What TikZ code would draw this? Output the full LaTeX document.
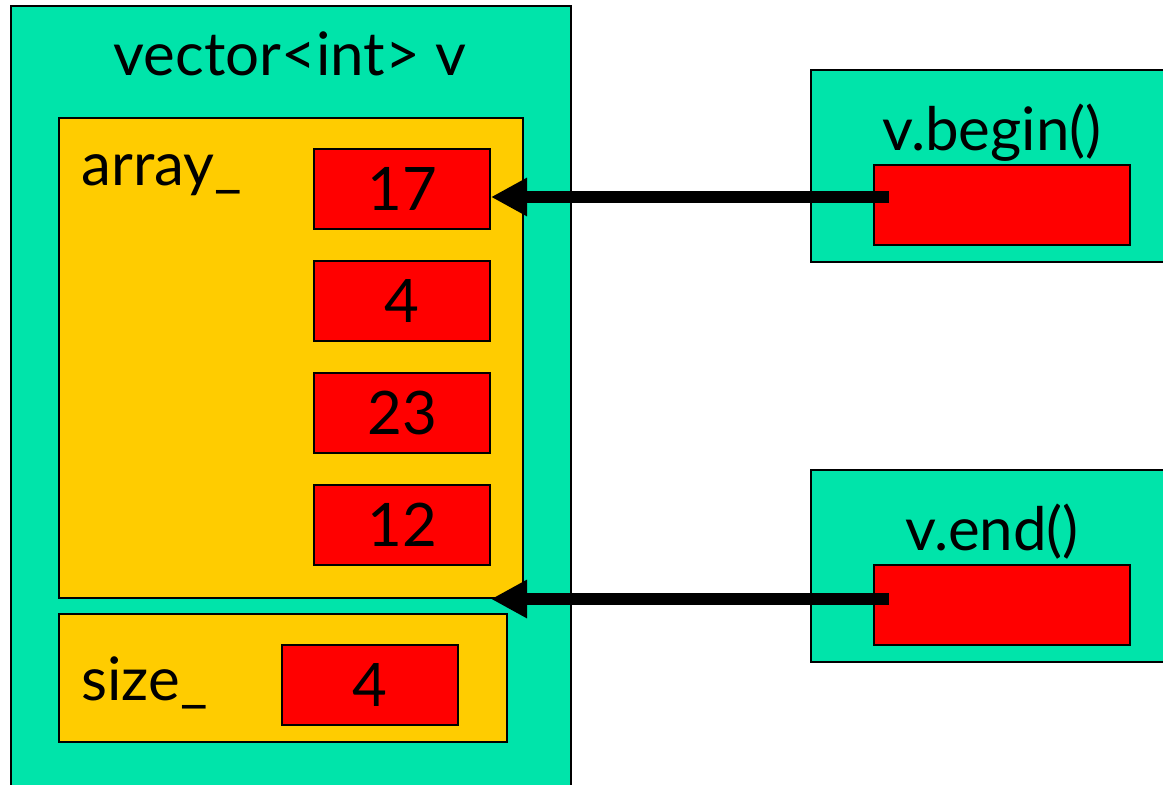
\documentclass[tikz,border=0pt]{standalone}
\usepackage{fontspec}
\setmainfont{Lato}
\usepackage{xcolor}
\usepackage{tikz}
\usetikzlibrary{arrows.meta}
\definecolor{mint}{RGB}{0,228,170}
\definecolor{gold}{RGB}{255,204,0}
\definecolor{cellred}{RGB}{255,0,0}
\tikzset{
  big/.style={font=\fontsize{60}{72}\selectfont},
  frame/.style={draw=black,line width=2pt,fill=mint,inner sep=0pt,anchor=north west},
  member/.style={draw=black,line width=2pt,fill=gold,inner sep=0pt,anchor=north west},
  cell/.style={draw=black,line width=2pt,fill=cellred,inner sep=0pt,minimum width=176pt,minimum height=80pt,big},
  ptr/.style={line width=12pt,-{Triangle[length=36pt,width=36pt]}}
}
\begin{document}
\begin{tikzpicture}[x=1pt,y=-1pt]
	\useasboundingbox (0,0) rectangle (1163,785);
	\clip (0,0) rectangle (1163,785);
	% the vector object
	\node[frame,minimum width=560pt,minimum height=800pt] (vec) at (10,5) {};
		\node[big,anchor=base] (vname) at (290,75) {vector<int> v};
	\node[member,minimum width=464pt,minimum height=480pt] (arr) at (58,117) {};
		\node[big,anchor=base west] (arrname) at (78,185) {array\_};
		\node[cell] (c1) at (402,189) {17};
		\node[cell] (c2) at (402,301) {4};
		\node[cell] (c3) at (402,413) {23};
		\node[cell] (c4) at (402,525) {12};
	\node[member,minimum width=448pt,minimum height=128pt] (siz) at (58,613) {};
		\node[big,anchor=base west] (sizname) at (78,700) {size\_};
		\node[cell] (sval) at (370,685) {4};
	% the iterators
	\node[frame,minimum width=365pt,minimum height=192pt] (itb) at (810,69) {};
		\node[big,anchor=base] (bname) at (992,150) {v.begin()};
		\node[cell,minimum width=256pt] (pb) at (1002,205) {};
	\node[frame,minimum width=365pt,minimum height=192pt] (ite) at (810,469) {};
		\node[big,anchor=base] (ename) at (992,550) {v.end()};
		\node[cell,minimum width=256pt] (pe) at (1002,605) {};
	\coordinate (b0) at ([xshift=16pt]pb.west |- 0,197);
	\coordinate (e0) at ([xshift=16pt]pe.west |- arr.south);
	\draw[ptr] (b0) -- (c1.east |- b0);
	\draw[ptr] (e0) -- (c4.east |- e0);
\end{tikzpicture}
\end{document}
